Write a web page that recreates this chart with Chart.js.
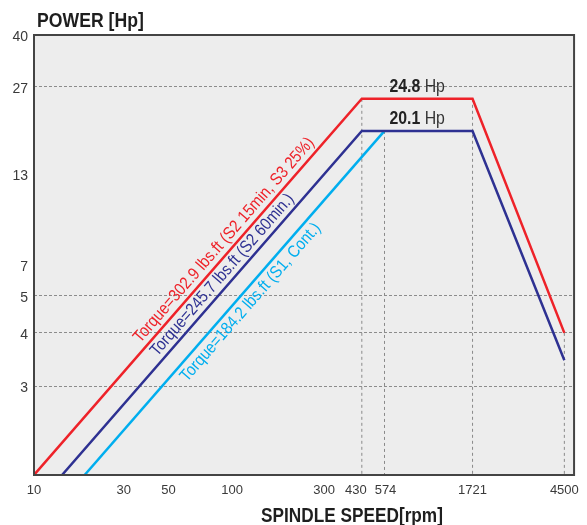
<!DOCTYPE html>
<html>
<head>
<meta charset="utf-8">
<script src="https://cdn.jsdelivr.net/npm/chart.js@4.4.1/dist/chart.umd.min.js"></script>
<style>
  html, body { margin: 0; padding: 0; background: #fff; }
</style>
</head>
<body>
<canvas id="chart" width="587" height="525"></canvas>
<script>
// Axis ticks
const speedTicks = [10, 30, 50, 100, 300, 430, 574, 1721, 4500];
const powerTicks = [3, 4, 5, 7, 13, 27, 40];
const powerGridTicks = [3, 4, 5, 27];

// Power curves (rpm / Hp)
const redSpeed = [10, 430, 1721, 4500];
const redPower = [1.8, 24.8, 24.8, 4];
const navySpeed = [14.1, 430, 1721, 4500];
const navyPower = [1.8, 20.1, 20.1, 3.45];
const cyanSpeed = [18.6, 574];
const cyanPower = [1.8, 20.1];

// Dashed drop lines from the corners
const guideSpeed = [430, 574, 1721, 4500];
const guideTop = [24.8, 20.1, 24.8, 4];

const torqueLabels = [
  "Torque=302.9 lbs.ft (S2 15min, S3 25%)",
  "Torque=245.7 lbs.ft (S2 60min.)",
  "Torque=184.2 lbs.ft (S1, Cont.)"
];

// The drawing's axes are only roughly logarithmic, so each axis is
// calibrated by its labelled values (value -> fraction of axis length)
const calib = {
  x: [[10, 0], [30, 0.166], [50, 0.249], [100, 0.367], [300, 0.537], [430, 0.607],
      [574, 0.649], [1721, 0.812], [4500, 0.982], [5000, 1]],
  y: [[1.8, 0], [3, 0.202], [4, 0.323], [5, 0.407], [7, 0.477], [13, 0.684],
      [20.1, 0.782], [24.8, 0.855], [27, 0.882], [40, 1]]
};
const tickSets = { x: speedTicks, y: powerTicks };
// 430 and 574 sit close together, pull them apart a little
const labelNudge = { x: { "430": -6, "574": 1 } };

class WarpScale extends Chart.LinearScale {
  static id = "warp";
  static defaults = Chart.LinearScale.defaults;

  buildTicks() {
    return tickSets[this.id].map(v => ({ value: v }));
  }
  _computeLabelItems(chartArea) {
    const items = super._computeLabelItems(chartArea);
    const nudge = labelNudge[this.id] || {};
    items.forEach(it => {
      const d = nudge[it.label];
      if (d && it.options && it.options.translation) it.options.translation[0] += d;
    });
    return items;
  }
  toFrac(v) {
    const c = calib[this.id];
    if (v <= c[0][0]) return c[0][1];
    for (let i = 1; i < c.length; i++) {
      if (v <= c[i][0]) {
        const [v0, f0] = c[i - 1], [v1, f1] = c[i];
        return f0 + (f1 - f0) * Math.log(v / v0) / Math.log(v1 / v0);
      }
    }
    return c[c.length - 1][1];
  }
  getPixelForValue(v) {
    return this.getPixelForDecimal(this.toFrac(v));
  }
  getValueForPixel(p) {
    const f = this.getDecimalForPixel(p);
    const c = calib[this.id];
    for (let i = 1; i < c.length; i++) {
      if (f <= c[i][1]) {
        const [v0, f0] = c[i - 1], [v1, f1] = c[i];
        return v0 * Math.pow(v1 / v0, (f - f0) / (f1 - f0));
      }
    }
    return c[c.length - 1][0];
  }
}
Chart.register(WarpScale);

const FONT = "'Liberation Sans', Arial, sans-serif";

function pts(xs, ys) {
  return xs.map((x, i) => ({ x: x, y: ys[i] }));
}

// the original lettering is a narrow face, so squeeze the text horizontally
function narrowText(ctx, txt, x, y, align, sx) {
  ctx.save();
  ctx.translate(x, y);
  ctx.scale(sx, 1);
  ctx.textAlign = align;
  ctx.fillText(txt, 0, 0);
  ctx.restore();
}

const curves = [
  { data: pts(redSpeed, redPower), color: "#ee2229" },
  { data: pts(navySpeed, navyPower), color: "#2e3192" },
  { data: pts(cyanSpeed, cyanPower), color: "#00aeef" }
];

const datasets = curves.map(c => ({
  data: c.data,
  borderColor: c.color,
  borderWidth: 2.5,
  pointRadius: 0,
  tension: 0
}));
guideSpeed.forEach((s, i) => {
  datasets.push({
    data: [{ x: s, y: guideTop[i] }, { x: s, y: 1.8 }],
    borderColor: "#8a8a8a",
    borderWidth: 1,
    borderDash: [3, 3],
    pointRadius: 0
  });
});

const decorate = {
  id: "decorate",
  beforeDraw(chart) {
    const { ctx, chartArea: a } = chart;
    ctx.save();
    ctx.fillStyle = "#ededed";
    ctx.fillRect(a.left, a.top, a.right - a.left, a.bottom - a.top);
    ctx.restore();
  },
  afterDatasetsDraw(chart) {
    const { ctx, chartArea: a } = chart;
    ctx.save();

    // frame
    ctx.strokeStyle = "#444";
    ctx.lineWidth = 2;
    ctx.strokeRect(a.left, a.top, a.right - a.left, a.bottom - a.top);

    // torque labels along the rising lines
    const offsets = [11, 10.5, -11.7];
    const along = [0.605, 0.561, 0.524];
    torqueLabels.forEach((txt, i) => {
      const m = chart.getDatasetMeta(i).data;
      const x0 = m[0].x, y0 = m[0].y, x1 = m[1].x, y1 = m[1].y;
      const len = Math.hypot(x1 - x0, y1 - y0);
      const nx = (y1 - y0) / len, ny = -(x1 - x0) / len;
      const px = x0 + (x1 - x0) * along[i] + nx * offsets[i];
      const py = y0 + (y1 - y0) * along[i] + ny * offsets[i];
      ctx.save();
      ctx.translate(px, py);
      ctx.rotate(Math.atan2(y1 - y0, x1 - x0));
      ctx.font = "17px " + FONT;
      ctx.fillStyle = curves[i].color;
      ctx.textBaseline = "middle";
      narrowText(ctx, txt, 0, 0, "center", 0.88);
      ctx.restore();
    });

    // power values on the flat parts
    [0, 1].forEach(i => {
      const m = chart.getDatasetMeta(i).data;
      const cx = (m[1].x + m[2].x) / 2;
      const by = m[1].y - 7;
      const num = String(i === 0 ? redPower[1] : navyPower[1]);
      ctx.font = "bold 18px " + FONT;
      const w1 = ctx.measureText(num).width * 0.88;
      ctx.font = "18px " + FONT;
      const w2 = ctx.measureText(" Hp").width * 0.88;
      const x = cx - (w1 + w2) / 2;
      ctx.textBaseline = "alphabetic";
      ctx.fillStyle = "#222";
      ctx.font = "bold 18px " + FONT;
      narrowText(ctx, num, x, by, "left", 0.88);
      ctx.fillStyle = "#333";
      ctx.font = "18px " + FONT;
      narrowText(ctx, " Hp", x + w1, by, "left", 0.88);
    });

    // axis titles
    ctx.fillStyle = "#1e1e1e";
    ctx.font = "bold 21px " + FONT;
    ctx.textBaseline = "alphabetic";
    narrowText(ctx, "POWER [Hp]", 37, 27, "left", 0.84);
    narrowText(ctx, "SPINDLE SPEED[rpm]", 352, 522, "center", 0.82);

    ctx.restore();
  }
};

new Chart(document.getElementById("chart"), {
  type: "line",
  data: { datasets: datasets },
  options: {
    responsive: false,
    animation: false,
    layout: { padding: { top: 35, right: 11, left: 0, bottom: 0 } },
    plugins: { legend: { display: false }, tooltip: { enabled: false } },
    scales: {
      x: {
        type: "warp",
        min: 10,
        max: 5000,
        afterFit: s => { s.height = 50; },
        grid: { display: false, drawTicks: false },
        border: { display: false },
        ticks: {
          autoSkip: false,
          maxRotation: 0,
          padding: 8,
          color: "#3a3a3a",
          font: { family: FONT, size: 13 },
          callback: v => String(v)
        }
      },
      y: {
        type: "warp",
        min: 1.8,
        max: 40,
        afterFit: s => { s.width = 34; },
        grid: {
          drawTicks: false,
          lineWidth: 1,
          color: c => powerGridTicks.includes(c.tick && c.tick.value) ? "#8c8c8c" : "rgba(0,0,0,0)"
        },
        border: { display: false, dash: [3, 2] },
        ticks: {
          autoSkip: false,
          padding: 6,
          labelOffset: 2,
          color: "#3a3a3a",
          font: { family: FONT, size: 14 },
          callback: v => String(v)
        }
      }
    }
  },
  plugins: [decorate]
});
</script>
</body>
</html>
